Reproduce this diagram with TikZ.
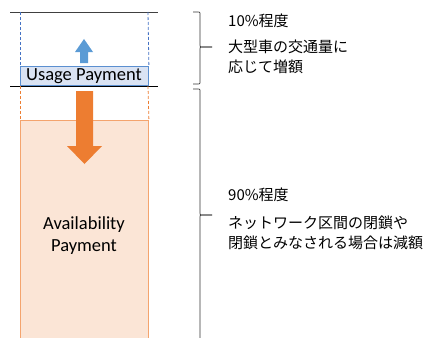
\documentclass[tikz,border=0pt]{standalone}
\usepackage{fontspec}
\setmainfont{Carlito}
\newfontfamily\jp{Noto Sans CJK JP}
\definecolor{ubfill}{HTML}{DAE3F3}
\definecolor{ubline}{HTML}{5B8FD0}
\definecolor{ubdash}{HTML}{4472C4}
\definecolor{uarrow}{HTML}{5B9BD5}
\definecolor{apfill}{HTML}{FBE5D6}
\definecolor{apline}{HTML}{F4A46E}
\definecolor{aarrow}{HTML}{ED7D31}
\tikzset{
  level/.style={line width=0.9pt, black},
  bdash/.style={ubdash, line width=0.8pt, dash pattern=on 3pt off 2pt},
  odash/.style={aarrow, line width=0.8pt, dash pattern=on 3pt off 2pt},
  brace/.style={line width=0.7pt, black!80, line join=round},
  jptext/.style={anchor=west, font=\jp\fontsize{15}{20}\selectfont, inner sep=0pt, align=left},
}
\begin{document}
\begin{tikzpicture}[x=1pt,y=-1pt]
\useasboundingbox (0,0) rectangle (435,337);
% availability box
\node[draw=apline, fill=apfill, line width=0.9pt, minimum width=128pt, minimum height=225pt, anchor=north west, inner sep=0pt] (ap) at (20,120) {};
\node[font=\fontsize{18.5}{22}\selectfont, align=center] (aptext) at (84,236) {Availability\\Payment};
% usage box
\node[draw=ubline, fill=ubfill, line width=0.9pt, minimum width=128pt, minimum height=19pt, anchor=north west, inner sep=0pt] (up) at (20,66) {};
\node[font=\fontsize{18.5}{18}\selectfont, inner sep=0pt] (uptext) at (84,76) {Usage Payment};
% levels
\coordinate (t1) at (10,12); \coordinate (t2) at (158,12);
\coordinate (m1) at (10,86); \coordinate (m2) at (158,86);
\draw[level, black!75] (t1) -- (t2);
\draw[level] (m1) -- (m2);
% dashed guides
\draw[bdash] (20,12) -- (up.north west);
\draw[bdash] (148,12) -- (up.north east);
\draw[odash] (20,86) -- (ap.north west);
\draw[odash] (148,86) -- (ap.north east);
% arrows
\fill[uarrow] (80,63) -- (88,63) -- (88,52) -- (93,52) -- (84,39) -- (75,52) -- (80,52) -- cycle;
\fill[aarrow] (76,91) -- (93,91) -- (93,146) -- (102,146) -- (84.5,164) -- (67,146) -- (76,146) -- cycle;
% braces
\draw[brace] (193,12) -- (198,12) .. controls (200,12) .. (200,14) -- (200,45) .. controls (200,47) .. (202,47) -- (212,47);
\draw[brace] (212,47) -- (202,47) .. controls (200,47) .. (200,49) -- (200,82) .. controls (200,84) .. (198,84) -- (193,84);
\draw[brace] (193,89) -- (198,89) .. controls (200,89) .. (200,91) -- (200,213) .. controls (200,215) .. (202,215) -- (212,215);
\draw[brace] (212,215) -- (202,215) .. controls (200,215) .. (200,217) -- (200,340);
% texts
\node[jptext] (p10) at (228,21) {10\%程度};
\node[jptext] (d10) at (228,57) {大型車の交通量に\\応じて増額};
\node[jptext] (p90) at (228,195) {90\%程度};
\node[jptext] (d90) at (228,233) {ネットワーク区間の閉鎖や\\閉鎖とみなされる場合は減額};
\end{tikzpicture}
\end{document}
